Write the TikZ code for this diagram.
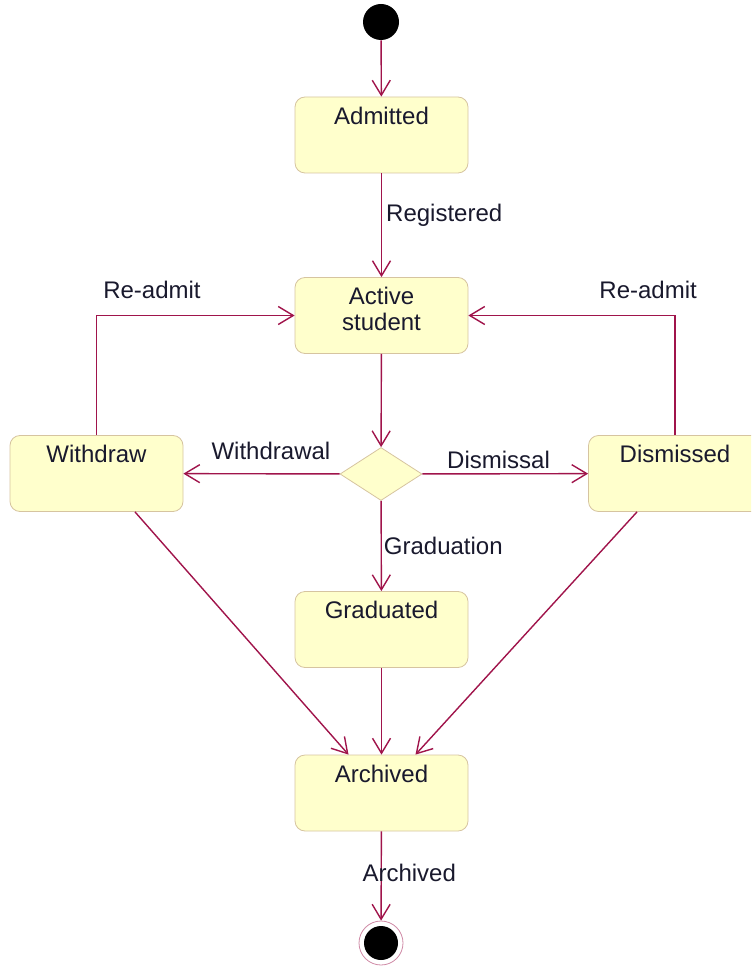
\documentclass[tikz,border=0pt]{standalone}
\usepackage{fontspec}
\setmainfont{Liberation Sans}
\usetikzlibrary{shapes.geometric,arrows.meta}
\definecolor{statefill}{RGB}{255,255,204}
\definecolor{stateline}{RGB}{214,196,160}
\definecolor{flow}{RGB}{160,20,75}
\definecolor{ink}{RGB}{25,25,45}
\tikzset{
  state/.style={rectangle, rounded corners=5pt, draw=stateline, fill=statefill,
    minimum width=86.5pt, minimum height=38pt, inner sep=0pt},
  statename/.style={anchor=north, inner sep=0pt, yshift=-5pt, text=ink, align=center,
    font=\fontsize{12}{13}\selectfont},
  choice/.style={diamond, draw=stateline, fill=statefill, minimum width=41pt,
    minimum height=26.5pt, inner sep=0pt},
  start/.style={circle, fill=black, minimum size=18pt, inner sep=0pt},
  stop/.style={circle, draw=flow!50, fill=white, minimum size=22pt, inner sep=0pt,
    path picture={\fill[black] (path picture bounding box.center) circle (8.5pt);}},
  flowline/.style={draw=flow, line width=0.7pt, -{Straight Barb[length=7.5pt,width=9pt]}},
  guard/.style={text=ink, font=\fontsize{12}{13}\selectfont, inner sep=2pt}
}
\begin{document}
\begin{tikzpicture}[x=0.5pt, y=-0.5pt]
  \clip (0,0) rectangle (751,972);
  % states
  \node[start] (init) at (381,22) {};
  \node[state] (admitted) at (381.5,135) {};
  \node[statename] at (admitted.north) {Admitted};
  \node[state] (active) at (381.5,315.5) {};
  \node[statename] at (active.north) {Active\\student};
  \node[state] (withdraw) at (96.5,473.5) {};
  \node[statename] at (withdraw.north) {Withdraw};
  \node[choice] (branch) at (381,474) {};
  \node[state] (dismissed) at (675,473.5) {};
  \node[statename] at (dismissed.north) {Dismissed};
  \node[state] (graduated) at (381.5,629.5) {};
  \node[statename] at (graduated.north) {Graduated};
  \node[state] (archived) at (381.5,793) {};
  \node[statename] at (archived.north) {Archived};
  \node[stop] (finish) at (381,943) {};
  % transitions
  \draw[flowline] (init) -- (admitted);
  \draw[flowline] (admitted) -- node[guard, right, pos=0.4] {Registered} (active);
  \draw[flowline] (active) -- (branch);
  \draw[flowline] (branch) -- node[guard, above, pos=0.44, yshift=4.5pt] {Withdrawal} (withdraw);
  \draw[flowline] (branch) -- node[guard, above, pos=0.46] {Dismissal} (dismissed);
  \draw[flowline] (branch) -- node[guard, right, pos=0.5, inner sep=1pt] {Graduation} (graduated);
  \draw[flowline] (withdraw.north) |- node[guard, above, pos=0.64, yshift=6pt] {Re-admit} (active.west);
  \draw[flowline] (dismissed.north) |- node[guard, above, pos=0.565, yshift=6pt] {Re-admit} (active.east);
  \draw[flowline] ([xshift=19.25pt]withdraw.south) -- ([xshift=-16.5pt]archived.north);
  \draw[flowline] (graduated) -- (archived);
  \draw[flowline] ([xshift=-19pt]dismissed.south) -- ([xshift=17pt]archived.north);
  \draw[flowline] (archived) -- node[guard, pos=0.47, xshift=14pt] {Archived} (finish);
\end{tikzpicture}
\end{document}
